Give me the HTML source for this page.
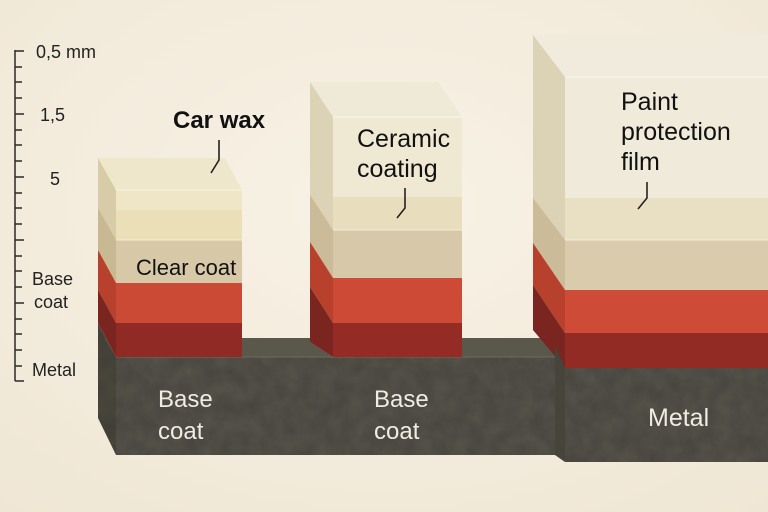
<!DOCTYPE html>
<html><head><meta charset="utf-8"><style>
html,body{margin:0;padding:0;background:#f6efe2;}
svg{display:block;}
text{font-family:"Liberation Sans",sans-serif;}
</style></head><body>
<svg width="768" height="512" viewBox="0 0 768 512" xmlns="http://www.w3.org/2000/svg">
<defs>
<radialGradient id="bg" cx="0.5" cy="0.4" r="0.8"><stop offset="0" stop-color="#f8f2e6"/><stop offset="1" stop-color="#efe6d4"/></radialGradient>
<filter id="noise" x="0" y="0" width="100%" height="100%"><feTurbulence type="fractalNoise" baseFrequency="0.06" numOctaves="3" seed="3"/><feColorMatrix values="0 0 0 0 0  0 0 0 0 0  0 0 0 0 0  0 0 0 0.35 -0.05"/><feComposite in2="SourceGraphic" operator="in"/></filter>
</defs>
<rect width="768" height="512" fill="url(#bg)"/>

<!-- scale -->
<g stroke="#2a2a2a" stroke-width="1.5" fill="none">
<line x1="15" y1="50" x2="15" y2="381"/>
<path d="M15 51h9M15 67h7M15 82h7M15 98h7M15 114h9M15 130h7M15 145h7M15 161h7M15 177h9M15 193h7M15 208h7M15 224h7M15 240h9M15 256h7M15 271h7M15 287h7M15 303h9M15 319h7M15 334h7M15 350h7M15 366h7M15 381h9"/>
</g>
<g font-size="18" fill="#222">
<text x="36" y="58">0,5 mm</text>
<text x="40" y="121">1,5</text>
<text x="50" y="185">5</text>
<text x="32" y="285">Base</text>
<text x="34" y="308">coat</text>
<text x="32" y="376">Metal</text>
</g>

<!-- metal slab -->
<polygon points="98,323 116,357 116,455 98,418" fill="#4a473d"/>
<polygon points="104,338 546,338 556,357 116,357" fill="#5a574b"/>
<rect x="116" y="357" width="440" height="98" fill="#55524a"/>
<rect x="116" y="357" width="440" height="98" fill="#fff" filter="url(#noise)" opacity="0.6"/>
<polygon points="98,323 116,357 116,455 98,418" fill="#fff" filter="url(#noise)" opacity="0.5"/>
<line x1="116" y1="357" x2="556" y2="357" stroke="#6e6a5c" stroke-width="1"/>

<!-- column 1 -->
<g>
<polygon points="98,158 225,158 242,190 116,190" fill="#efe7cc"/>
<polygon points="98,158 116,190 116,357 98,323" fill="#d8cca8"/>
<polygon points="98,208 116,240 116,283 98,250" fill="#c9b993"/>
<polygon points="98,250 116,283 116,323 98,290" fill="#b8412e"/>
<polygon points="98,290 116,323 116,357 98,323" fill="#7a2520"/>
<rect x="116" y="190" width="126" height="20" fill="#efe6c6"/>
<rect x="116" y="210" width="126" height="30" fill="#ebdfb8"/>
<rect x="116" y="240" width="126" height="43" fill="#d7c8a8"/>
<rect x="116" y="283" width="126" height="40" fill="#cb4a35"/>
<rect x="116" y="323" width="126" height="34" fill="#8f2b24"/>
<line x1="116" y1="190" x2="242" y2="190" stroke="#faf5e6"/>
<line x1="116" y1="240" x2="242" y2="240" stroke="#f4ecd6"/>
</g>

<!-- column 2 -->
<g>
<polygon points="310,82 438,82 462,117 333,117" fill="#efe9d8"/>
<polygon points="310,82 333,117 333,357 310,342" fill="#dcd2b6"/>
<polygon points="310,195 333,230 333,278 310,242" fill="#cbbb98"/>
<polygon points="310,242 333,278 333,323 310,287" fill="#b8412e"/>
<polygon points="310,287 333,323 333,357 310,342" fill="#7a2520"/>
<rect x="333" y="117" width="129" height="80" fill="#efe8d3"/>
<rect x="333" y="197" width="129" height="33" fill="#e8ddbd"/>
<rect x="333" y="230" width="129" height="48" fill="#d7c8aa"/>
<rect x="333" y="278" width="129" height="45" fill="#cd4b36"/>
<rect x="333" y="323" width="129" height="34" fill="#942c25"/>
<line x1="333" y1="117" x2="462" y2="117" stroke="#faf6ea"/>
<line x1="333" y1="230" x2="462" y2="230" stroke="#f4ecd8"/>
</g>

<!-- column 3 -->
<g>
<polygon points="533,35 768,35 768,77 565,77" fill="#f0ebdc"/>
<polygon points="533,35 565,77 565,462 555,455 555,345 533,330" fill="#dcd2b6"/>
<polygon points="533,198 565,240 565,290 533,243" fill="#cbbb98"/>
<polygon points="533,243 565,290 565,333 533,285" fill="#b8412e"/>
<polygon points="533,285 565,333 565,368 533,330" fill="#7a2520"/>
<polygon points="555,345 565,368 565,462 555,455" fill="#47443b"/>
<rect x="565" y="77" width="203" height="121" fill="#f0eadb"/>
<rect x="565" y="198" width="203" height="42" fill="#e9dfc2"/>
<rect x="565" y="240" width="203" height="50" fill="#d9cbab"/>
<rect x="565" y="290" width="203" height="43" fill="#ce4c37"/>
<rect x="565" y="333" width="203" height="35" fill="#922b24"/>
<rect x="565" y="368" width="203" height="94" fill="#55524a"/>
<rect x="565" y="368" width="203" height="94" fill="#fff" filter="url(#noise)" opacity="0.6"/>
<line x1="565" y1="77" x2="768" y2="77" stroke="#faf6ea"/>
<line x1="565" y1="240" x2="768" y2="240" stroke="#f5eedb"/>
</g>

<!-- leader lines -->
<g stroke="#222" stroke-width="1.6" fill="none">
<path d="M219 140v20l-8 13"/>
<path d="M405 188v20l-8 10"/>
<path d="M647 182v16l-9 11"/>
</g>

<!-- labels -->
<g fill="#111">
<text x="173" y="128" font-size="24" font-weight="bold">Car wax</text>
<text x="136" y="275" font-size="22">Clear coat</text>
<text x="357" y="147" font-size="25">Ceramic</text>
<text x="357" y="177" font-size="25">coating</text>
<text x="621" y="110" font-size="25">Paint</text>
<text x="621" y="140" font-size="25">protection</text>
<text x="621" y="170" font-size="25">film</text>
</g>
<g fill="#f0ece4" font-size="24">
<text x="158" y="407">Base</text>
<text x="158" y="439">coat</text>
<text x="374" y="407">Base</text>
<text x="374" y="439">coat</text>
<text x="648" y="426" font-size="25">Metal</text>
</g>
</svg>
</body></html>
